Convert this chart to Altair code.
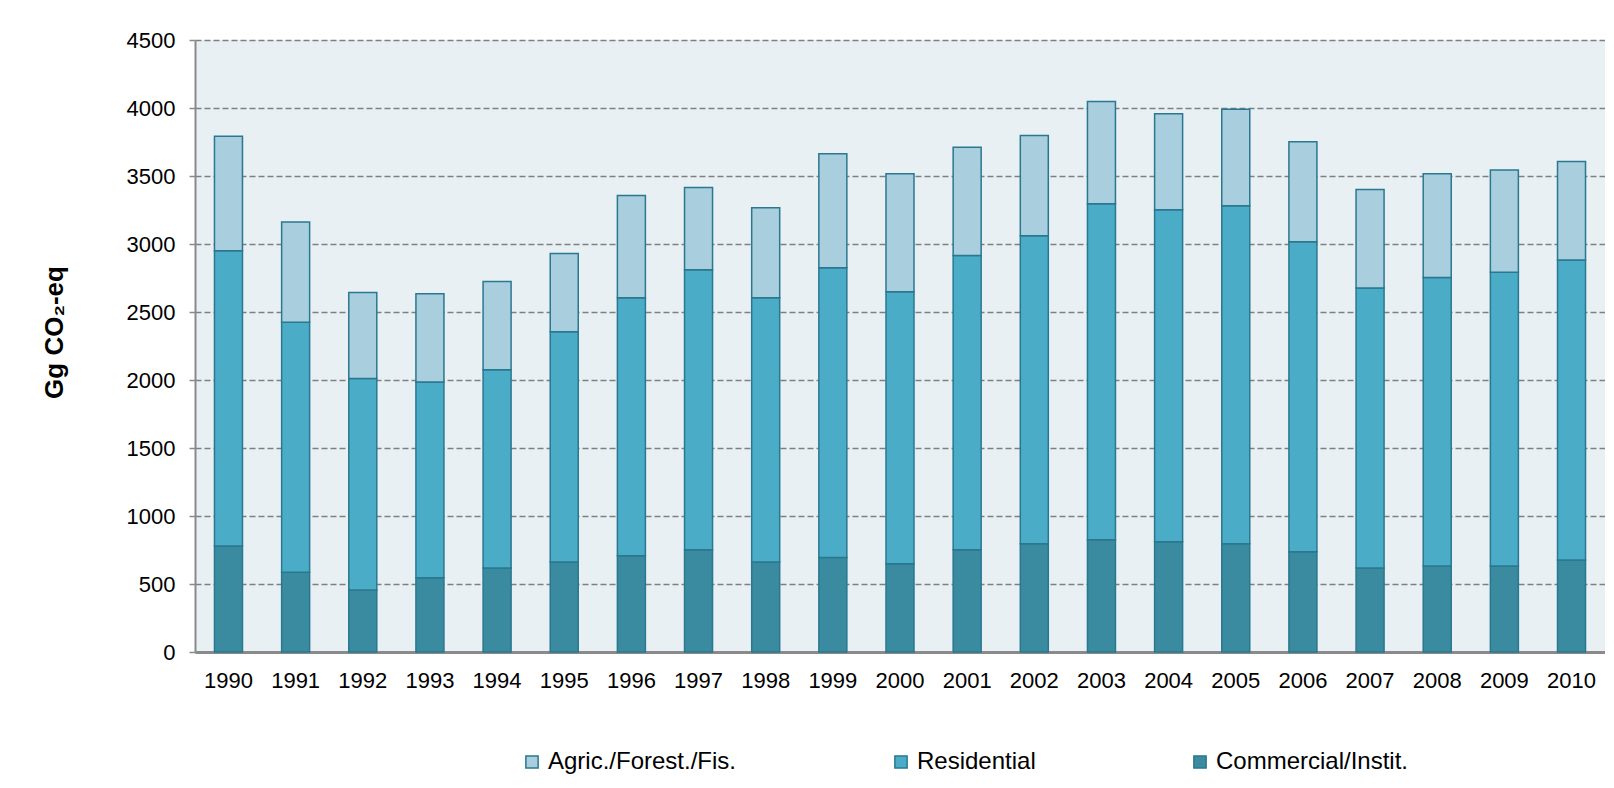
import altair as alt
import pandas as pd

years = [str(y) for y in range(1990, 2011)]
commercial = [780, 586, 455, 546, 618, 662, 708, 752, 662, 694, 648, 752, 796, 825, 810, 796, 738, 618, 633, 633, 677]
residential = [2171, 1838, 1556, 1440, 1458, 1693, 1897, 2059, 1943, 2131, 2000, 2163, 2264, 2471, 2442, 2485, 2279, 2059, 2120, 2160, 2206]
agric = [842, 737, 632, 648, 648, 575, 752, 604, 662, 839, 868, 796, 738, 752, 706, 709, 734, 723, 763, 752, 723]

series_names = ["Agric./Forest./Fis.", "Residential", "Commercial/Instit."]
series_colors = ["#a9cedd", "#4aacc6", "#3a8aa0"]
y_ticks = [0, 500, 1000, 1500, 2000, 2500, 3000, 3500, 4000, 4500]

rows = []
for i, y in enumerate(years):
    rows.append({"year": y, "series": series_names[2], "value": commercial[i], "ord": 0})
    rows.append({"year": y, "series": series_names[1], "value": residential[i], "ord": 1})
    rows.append({"year": y, "series": series_names[0], "value": agric[i], "ord": 2})
df = pd.DataFrame(rows)

FONT = "Liberation Sans"

chart = alt.Chart(df).mark_bar(stroke="#2a7890", strokeWidth=1.5).encode(
    x=alt.X("year:O", title=None,
            scale=alt.Scale(paddingInner=0.583, paddingOuter=0.29),
            axis=alt.Axis(labelAngle=0, ticks=False, domainColor="#8a8a8a", domainWidth=3,
                          labelPadding=18, labelFontSize=22, grid=False)),
    y=alt.Y("value:Q", stack="zero", title="Gg CO₂-eq",
            scale=alt.Scale(domain=[0, 4500], nice=False),
            axis=alt.Axis(values=y_ticks, format="d", tickSize=6, tickColor="#8a8a8a", tickWidth=1.5,
                          domainColor="#8a8a8a", domainWidth=2,
                          labelPadding=14, labelFontSize=22,
                          grid=True, gridColor="#7f7f7f", gridDash=[6, 3], gridWidth=1.5,
                          titleFontSize=26, titleFontWeight="bold", titleAngle=-90,
                          titleX=-141, titleY=292, titleAlign="center", titleBaseline="middle")),
    color=alt.Color("series:N", scale=alt.Scale(domain=series_names, range=series_colors),
                    legend=alt.Legend(title=None, orient="none", direction="horizontal",
                                      legendX=325, legendY=710, columnPadding=152,
                                      symbolType="square", symbolSize=150,
                                      symbolStrokeColor="#2a7890", symbolStrokeWidth=1.5,
                                      labelFontSize=24, labelOffset=4, labelLimit=0)),
    order=alt.Order("ord:Q", sort="ascending"),
).properties(
    width=1410, height=612,
    autosize=alt.AutoSizeParams(type="none"),
    padding={"left": 187, "top": 32, "right": 0, "bottom": 134},
).configure(
    font=FONT,
    background="white",
).configure_view(
    fill="#e8f0f4", stroke=None,
).configure_axis(
    labelColor="black", titleColor="black", labelFont=FONT, titleFont=FONT,
).configure_legend(
    labelFont=FONT, labelColor="black",
)

chart.save("out.html", embed_options={"renderer": "svg", "actions": False})
